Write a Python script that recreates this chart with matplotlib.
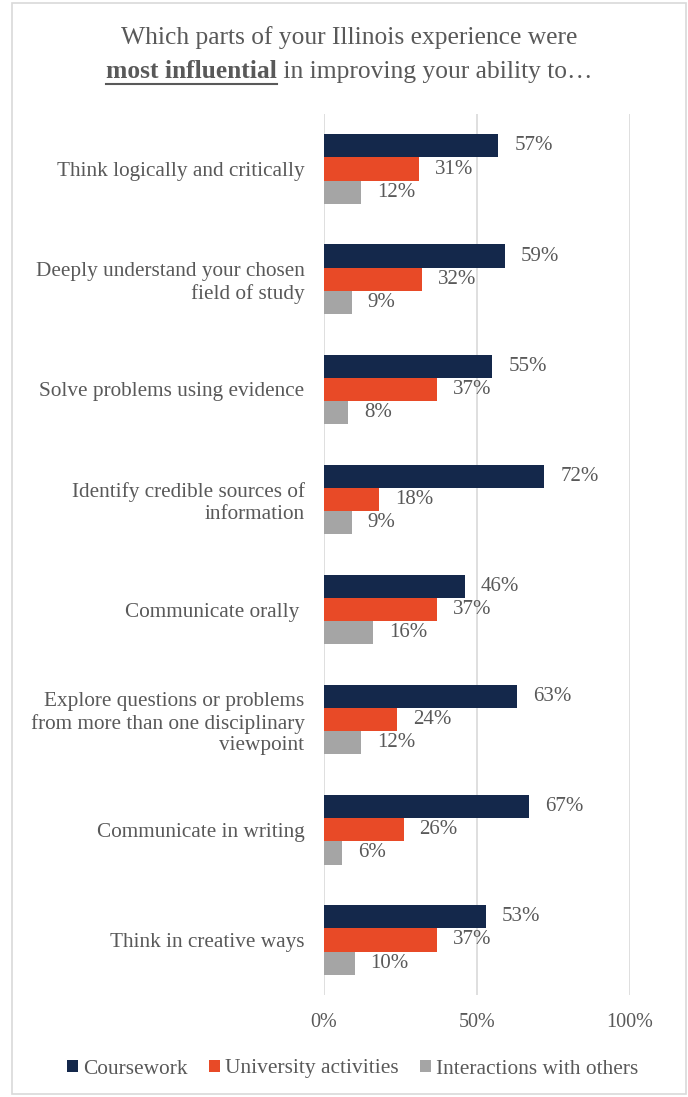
import numpy as np
import matplotlib.pyplot as plt
from matplotlib.patches import Rectangle
from matplotlib.lines import Line2D

plt.rcParams['font.family'] = ['Liberation Serif', 'DejaVu Serif']

#---------data---------#
categories = ['Think logically and critically',
              'Deeply understand your chosen\nfield of study',
              'Solve problems using evidence',
              'Identify credible sources of\ninformation',
              'Communicate orally ',
              'Explore questions or problems\nfrom more than one disciplinary\nviewpoint',
              'Communicate in writing',
              'Think in creative ways']
coursework = [57, 59, 55, 72, 46, 63, 67, 53]
university = [31, 32, 37, 18, 37, 24, 26, 37]
interactions = [12, 9, 8, 9, 16, 12, 6, 10]
series_names = ['Coursework', 'University activities', 'Interactions with others']
x_ticks = [0, 50, 100]

colors = ['#14284B', '#E84A27', '#A5A5A5']
txt = '#595959'

fig = plt.figure(figsize=(6.88, 10.97), dpi=100)
W, H = 688, 1097
ax = fig.add_axes([324 / W, 1 - 995 / H, 306 / W, (995 - 114) / H])

y = np.arange(len(categories))
bh = 0.21
series = [coursework, university, interactions]
for k, vals in enumerate(series):
    pos = y + (k - 1) * bh
    bars = ax.barh(pos, vals, height=bh, color=colors[k], label=series_names[k], zorder=3)
    for b, v in zip(bars, vals):
        ax.annotate(f'{v}%', (b.get_width(), b.get_y() + b.get_height() / 2),
                    xytext=(11.5, 0), textcoords='offset points',
                    va='center', ha='left', fontsize=15, color=txt)

ax.set_xlim(0, 100)
ax.set_ylim(len(categories) - 0.5, -0.5)
ax.set_xticks(x_ticks)
ax.set_xticklabels([f'{t}%' for t in x_ticks], fontsize=14.5, color=txt)
ax.set_yticks(y)
ax.set_yticklabels(categories, fontsize=15.3, color=txt, linespacing=1.2)
ax.tick_params(length=0, pad=13)
ax.tick_params(axis='y', pad=14)
ax.xaxis.grid(True, color='#D9D9D9', lw=1.2, zorder=0)
for s in ax.spines.values():
    s.set_visible(False)

#---------title---------#
cx = 349
fig.text(cx / W, 1 - 38 / H, 'Which parts of your Illinois experience were',
         ha='center', va='center', fontsize=18.4, color=txt)
fig.canvas.draw()
r = fig.canvas.get_renderer()
t1 = fig.text(0, 1 - 72 / H, 'most influential', ha='left', va='center',
              fontsize=18.4, color=txt, weight='bold')
t2 = fig.text(0, 1 - 72 / H, ' in improving your ability to…', ha='left', va='center',
              fontsize=18.4, color=txt)
w1 = t1.get_window_extent(r).width
w2 = t2.get_window_extent(r).width
x0 = cx - (w1 + w2) / 2
t1.set_x(x0 / W)
t2.set_x((x0 + w1) / W)
uy = 1 - 84 / H
fig.add_artist(Line2D([x0 / W, (x0 + w1) / W], [uy, uy], color=txt, lw=1.5,
                      transform=fig.transFigure))

#---------legend---------#
fig.legend(loc='center', bbox_to_anchor=(353 / W, 1 - 1069 / H), ncol=3, frameon=False,
           fontsize=15.4, labelcolor=txt, handlelength=0.5, handleheight=0.5,
           handletextpad=0.25, columnspacing=1.0)

#---------border---------#
fig.add_artist(Rectangle((12 / W, 3 / H), 674 / W, 1091 / H, fill=False,
                         ec='#D9D9D9', lw=1.2, transform=fig.transFigure))

fig.savefig('out.png', dpi=100)
